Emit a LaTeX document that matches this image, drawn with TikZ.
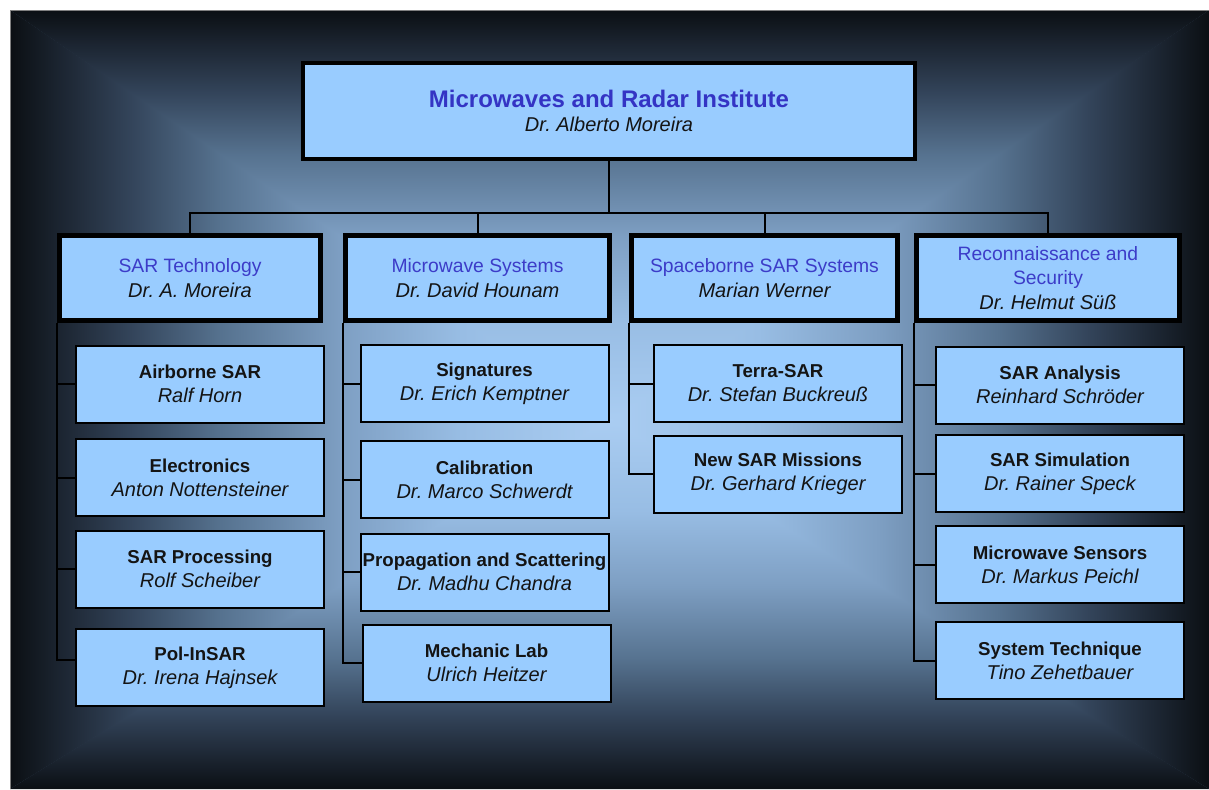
\documentclass[tikz,border=0pt]{standalone}
\usepackage{fontspec}
\setmainfont{Liberation Sans}
\frenchspacing
\definecolor{boxblue}{HTML}{99CCFF}
\definecolor{topblue}{HTML}{3434C4}
\definecolor{twoblue}{HTML}{3C3CC8}
\definecolor{txt}{HTML}{141414}
\definecolor{g0}{HTML}{AACDF2}
\definecolor{g1}{HTML}{98BDE4}
\definecolor{g2}{HTML}{7E9FC3}
\definecolor{g3}{HTML}{56728F}
\definecolor{g4}{HTML}{33445A}
\definecolor{g5}{HTML}{1B2430}
\definecolor{g6}{HTML}{0B0F13}
% edge at top (vertical shadings run bottom -> top)
\pgfdeclareverticalshading{bgt}{100bp}{color(0bp)=(g0); color(25bp)=(g0); color(37.5bp)=(g1); color(47.5bp)=(g2); color(57.5bp)=(g3); color(65bp)=(g4); color(71bp)=(g5); color(75bp)=(g6); color(100bp)=(g6)}
% edge at bottom
\pgfdeclareverticalshading{bgb}{100bp}{color(0bp)=(g6); color(25bp)=(g6); color(29bp)=(g5); color(35bp)=(g4); color(42.5bp)=(g3); color(52.5bp)=(g2); color(62.5bp)=(g1); color(75bp)=(g0); color(100bp)=(g0)}
% edge at left (horizontal shadings run left -> right)
\pgfdeclarehorizontalshading{bgl}{100bp}{color(0bp)=(g6); color(25bp)=(g6); color(29bp)=(g5); color(35bp)=(g4); color(42.5bp)=(g3); color(52.5bp)=(g2); color(62.5bp)=(g1); color(75bp)=(g0); color(100bp)=(g0)}
% edge at right
\pgfdeclarehorizontalshading{bgr}{100bp}{color(0bp)=(g0); color(25bp)=(g0); color(37.5bp)=(g1); color(47.5bp)=(g2); color(57.5bp)=(g3); color(65bp)=(g4); color(71bp)=(g5); color(75bp)=(g6); color(100bp)=(g6)}
\tikzset{
  lvlone/.style={draw=black, line width=3pt, fill=boxblue, minimum width={612*0.75pt}, minimum height={96*0.75pt}, align=center, inner sep=0pt, text=txt},
  lvltwo/.style={draw=black, line width=3.75pt, fill=boxblue, minimum height={85*0.75pt}, align=center, inner sep=0pt, text=txt, font=\fontsize{14.5}{18.5}\selectfont},
  lvlthree/.style={draw=black, line width=1.5pt, fill=boxblue, minimum width={248*0.75pt}, minimum height={77*0.75pt}, align=center, inner sep=0pt, text=txt, font=\fontsize{14}{18}\selectfont},
  conn/.style={draw=black, line width=1.5pt},
}
\newcommand{\unitname}[2]{{\color{twoblue}#1}\\{\fontsize{15}{18.5}\selectfont\itshape #2}}
\newcommand{\groupname}[2]{\textbf{#1}\\{\fontsize{15}{18}\selectfont\itshape #2}}
\begin{document}
\begin{tikzpicture}[x=0.75pt,y=-0.75pt]
\useasboundingbox (0,0) rectangle (1209,789);
\fill[white] (0,0) rectangle (1209,789);
% background: rectangular "from centre" gradient
\coordinate (C) at (610,420);
\coordinate (TL) at (10,10);
\coordinate (TR) at (1209,10);
\coordinate (BR) at (1209,789);
\coordinate (BL) at (10,789);
\fill[g3] (TL) rectangle (BR);
\shade[shading=bgl] ([xshift=1.5pt]C) -- (TL) -- (BL) -- cycle;
\shade[shading=bgr] ([xshift=-1.5pt]C) -- (TR) -- (BR) -- cycle;
\shade[shading=bgt] ([yshift=-1.5pt]C) -- (TL) -- (TR) -- cycle;
\shade[shading=bgb] ([yshift=1.5pt]C) -- (BL) -- (BR) -- cycle;
\draw[gray, line width=0.75pt] (BL) -- (TL) -- (TR);

% top
\node[lvlone] (top) at (609,111) {{\fontsize{18}{20}\selectfont\bfseries\color{topblue}Microwaves and Radar Institute}\\[6pt]{\fontsize{15}{18}\selectfont\itshape Dr. Alberto Moreira}};

% level 2
\node[lvltwo, minimum width={261*0.75pt}] (a) at (190,278) {\unitname{SAR Technology}{Dr. A. Moreira}};
\node[lvltwo, minimum width={264*0.75pt}] (b) at (477.5,278) {\unitname{Microwave Systems}{Dr. David Hounam}};
\node[lvltwo, minimum width={266*0.75pt}] (c) at (764.5,278) {\unitname{Spaceborne SAR Systems}{Marian Werner}};
\node[lvltwo, minimum width={263*0.75pt}] (d) at (1048,278) {{\color{twoblue}Reconnaissance and}\\{\color{twoblue}Security}\\{\fontsize{15}{18.5}\selectfont\itshape Dr. Helmut Süß}};

% bus
\coordinate (bus) at (609,213);
\draw[conn] (top.south) -- (top.south |- bus);
\draw[conn] (a.north) -- (a.north |- bus) -- (d.north |- bus) -- (d.north);
\draw[conn] (b.north) -- (b.north |- bus);
\draw[conn] (c.north) -- (c.north |- bus);

% column 1
\node[lvlthree] (a1) at (200,384) {\groupname{Airborne SAR}{Ralf Horn}};
\node[lvlthree] (a2) at (200,477.5) {\groupname{Electronics}{Anton Nottensteiner}};
\node[lvlthree] (a3) at (200,569) {\groupname{SAR Processing}{Rolf Scheiber}};
\node[lvlthree] (a4) at (200,667.5) {\groupname{Pol-InSAR}{Dr. Irena Hajnsek}};
% column 2
\node[lvlthree] (b1) at (484.5,383.5) {\groupname{Signatures}{Dr. Erich Kemptner}};
\node[lvlthree] (b2) at (484.5,479.5) {\groupname{Calibration}{Dr. Marco Schwerdt}};
\node[lvlthree] (b3) at (484.5,572) {\groupname{Propagation and Scattering}{Dr. Madhu Chandra}};
\node[lvlthree] (b4) at (486.5,663) {\groupname{Mechanic Lab}{Ulrich Heitzer}};
% column 3
\node[lvlthree] (c1) at (778,383.5) {\groupname{Terra-SAR}{Dr. Stefan Buckreuß}};
\node[lvlthree] (c2) at (778,474) {\groupname{New SAR Missions}{Dr. Gerhard Krieger}};
% column 4
\node[lvlthree] (d1) at (1060,385) {\groupname{SAR Analysis}{Reinhard Schröder}};
\node[lvlthree] (d2) at (1060,473.5) {\groupname{SAR Simulation}{Dr. Rainer Speck}};
\node[lvlthree] (d3) at (1060,564.5) {\groupname{Microwave Sensors}{Dr. Markus Peichl}};
\node[lvlthree] (d4) at (1060,660.5) {\groupname{System Technique}{Tino Zehetbauer}};

% brackets
\draw[conn] (a.south west) |- ([yshift=5.6pt]a4.west);
\foreach \n in {a1,a2,a3} \draw[conn] (\n.west) -- (\n.west -| a.south west);
\draw[conn] (b.south west) |- (b4.west);
\foreach \n in {b1,b2,b3} \draw[conn] (\n.west) -- (\n.west -| b.south west);
\draw[conn] (c.south west) |- (c2.west);
\draw[conn] (c1.west) -- (c1.west -| c.south west);
\draw[conn] (d.south west) |- (d4.west);
\foreach \n in {d1,d2,d3} \draw[conn] (\n.west) -- (\n.west -| d.south west);
\end{tikzpicture}
\end{document}
